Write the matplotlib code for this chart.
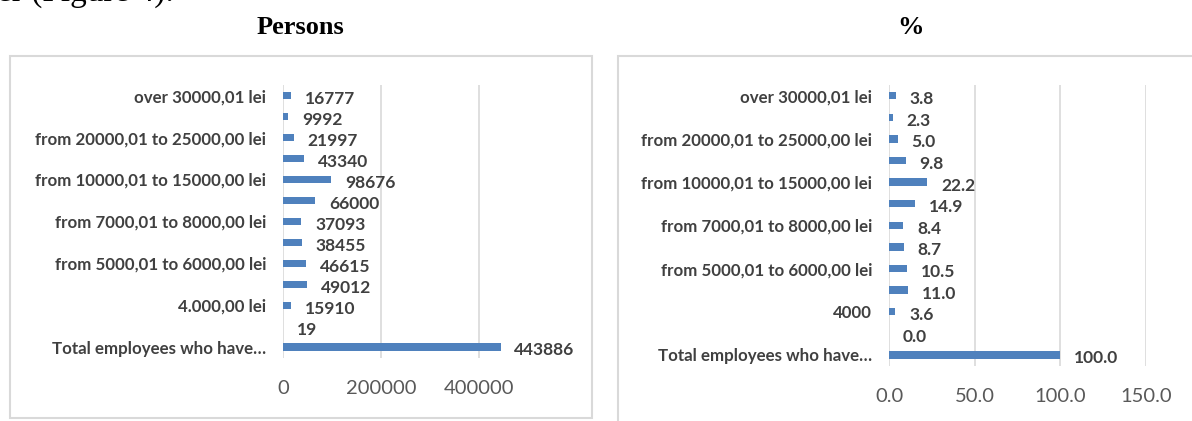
import numpy as np
import matplotlib
matplotlib.use("Agg")
import matplotlib.pyplot as plt
from matplotlib.patches import Rectangle

plt.rcParams['font.family'] = ['Lato', 'DejaVu Sans']

# categories listed top to bottom (Excel shows only every other label)
labels_persons = ["over 30000,01 lei", "", "from 20000,01 to 25000,00 lei", "",
                  "from 10000,01 to 15000,00 lei", "", "from 7000,01 to 8000,00 lei", "",
                  "from 5000,01 to 6000,00 lei", "", "4.000,00 lei", "",
                  "Total employees who have\u2026"]
labels_percent = ["over 30000,01 lei", "", "from 20000,01 to 25000,00 lei", "",
                  "from 10000,01 to 15000,00 lei", "", "from 7000,01 to 8000,00 lei", "",
                  "from 5000,01 to 6000,00 lei", "", "4000", "",
                  "Total employees who have\u2026"]
persons = [16777, 9992, 21997, 43340, 98676, 66000, 37093, 38455, 46615, 49012, 15910, 19, 443886]
percent = [3.8, 2.3, 5.0, 9.8, 22.2, 14.9, 8.4, 8.7, 10.5, 11.0, 3.6, 0.0, 100.0]

persons_ticks = [0, 200000, 400000]
percent_ticks = [0, 50, 100, 150]

BAR = '#4F81BD'
GRID = '#D9D9D9'
TXT = '#404040'

W, H = 1192, 421
fig = plt.figure(figsize=(W / 100, H / 100), dpi=100)


def px(x0, y0, x1, y1):
    # pixel box -> figure fraction [left, bottom, width, height]
    return [x0 / W, 1 - y1 / H, (x1 - x0) / W, (y1 - y0) / H]


def draw_panel(rect, labels, values, ticks, xmax, fmt, xpad):
    ax = fig.add_axes(rect)
    y = np.arange(len(values))[::-1]
    ax.barh(y, values, height=0.34, color=BAR)
    ax.set_ylim(-0.5, len(values) - 0.5)
    ax.set_xlim(0, xmax)
    ax.set_yticks(y)
    ax.set_yticklabels(labels, fontsize=12.2, fontweight='bold', color=TXT)
    ax.set_xticks(ticks)
    ax.set_xticklabels([fmt(t) for t in ticks], fontsize=14.5, color='#595959')
    ax.tick_params(length=0)
    ax.tick_params(axis='y', pad=12)
    ax.tick_params(axis='x', pad=xpad)
    for s in ax.spines.values():
        s.set_visible(False)
    for t in ticks:
        ax.axvline(t, color=GRID, lw=1.2, zorder=0)
    for yi, v in zip(y, values):
        ax.annotate(fmt(v), (v, yi), xytext=(10, -2.5), textcoords='offset points',
                    va='center', ha='left', fontsize=12.5, fontweight='bold', color=TXT,
                    annotation_clip=False)
    return ax


draw_panel(px(283, 85.2, 577, 357.5), labels_persons, persons, persons_ticks, 600000,
           lambda v: f"{int(v)}", 16)
draw_panel(px(889, 84.9, 1146, 365.8), labels_percent, percent, percent_ticks, 150,
           lambda v: f"{v:.1f}", 16)

# chart borders
fig.patches.append(Rectangle((10 / W, 1 - 418 / H), 582 / W, 362 / H, transform=fig.transFigure,
                             fill=False, ec=GRID, lw=1.5))
fig.patches.append(Rectangle((618 / W, -0.1), 0.6, 1 - 56 / H + 0.1, transform=fig.transFigure,
                             fill=False, ec=GRID, lw=1.5))

# titles in document font
serif = ['Liberation Serif', 'DejaVu Serif']
fig.text(300 / W, 1 - 27 / H, "Persons", family=serif,
         fontweight='bold', fontsize=19, ha='center', va='center')
fig.text(910 / W, 1 - 27 / H, "%", family=serif,
         fontweight='bold', fontsize=19, ha='center', va='center')
# last line of the preceding paragraph, cut by the top edge
fig.text(-3 / W, 1 - 1 / H, "er (Figure 4).", family=serif,
         fontsize=24, ha='left', va='baseline')

fig.savefig('out.png', dpi=100)
